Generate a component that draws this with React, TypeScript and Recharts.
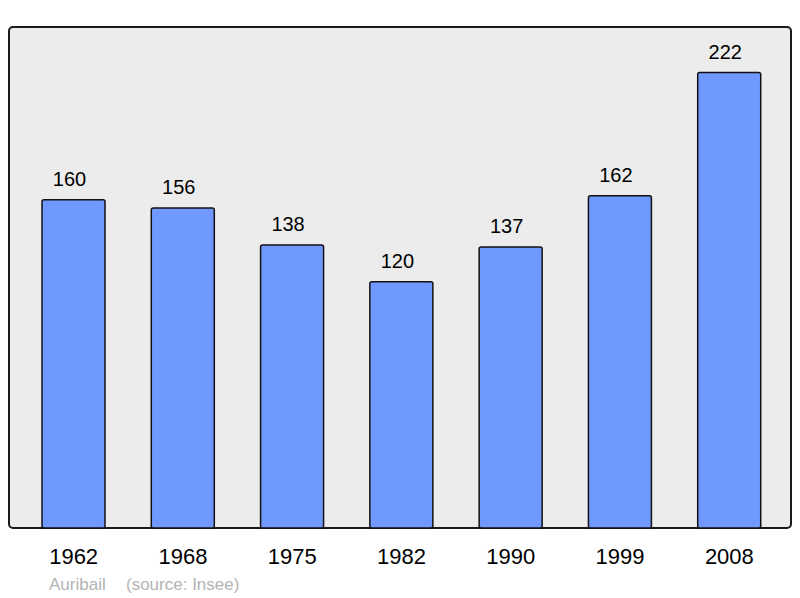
import React from "react";
import { BarChart, Bar, XAxis, YAxis, LabelList } from "recharts";

const years = ["1962", "1968", "1975", "1982", "1990", "1999", "2008"];
const population = [160, 156, 138, 120, 137, 162, 222];
const commune = "Auribail";
const source = "(source: Insee)";

const data = years.map((y, i) => ({ year: y, value: population[i] }));

const FONT = "'Liberation Sans', Arial, sans-serif";

export default function App() {
  return (
    <div style={{ position: "absolute", left: 0, top: 0, width: 800, height: 598, background: "#fff", fontFamily: FONT }}>
      <div
        style={{
          position: "absolute",
          left: 8,
          top: 26,
          width: 784,
          height: 503,
          boxSizing: "border-box",
          border: "2px solid #1a1a1a",
          borderRadius: 5,
          background: "#ececec",
        }}
      />
      <div style={{ position: "absolute", left: 0, top: 0 }}>
        <BarChart
          width={800}
          height={598}
          data={data}
          margin={{ top: 27, right: 9, left: 9, bottom: 0 }}
        >
          <XAxis
            dataKey="year"
            height={70}
            axisLine={false}
            tickLine={false}
            tickSize={0}
            tickMargin={20}
            padding={{ left: 10, right: 7 }}
            tick={{ fontSize: 22, fill: "#000", fontFamily: FONT }}
            interval={0}
          />
          <YAxis hide domain={[0, 244.2]} />
          <Bar
            dataKey="value"
            fill="#7099ff"
            stroke="#111"
            strokeWidth={1.5}
            barSize={63}
            radius={2}
            isAnimationActive={false}
          >
            <LabelList
              dataKey="value"
              position="top"
              offset={14}
              dx={-4}
              fill="#000"
              fontSize={20}
              fontFamily={FONT}
            />
          </Bar>
        </BarChart>
      </div>
      <div style={{ position: "absolute", left: 49, top: 575, fontSize: 17, color: "#b3b3b3", whiteSpace: "pre" }}>
        {commune}
      </div>
      <div style={{ position: "absolute", left: 126, top: 575, fontSize: 17, color: "#b3b3b3", whiteSpace: "pre" }}>
        {source}
      </div>
    </div>
  );
}
